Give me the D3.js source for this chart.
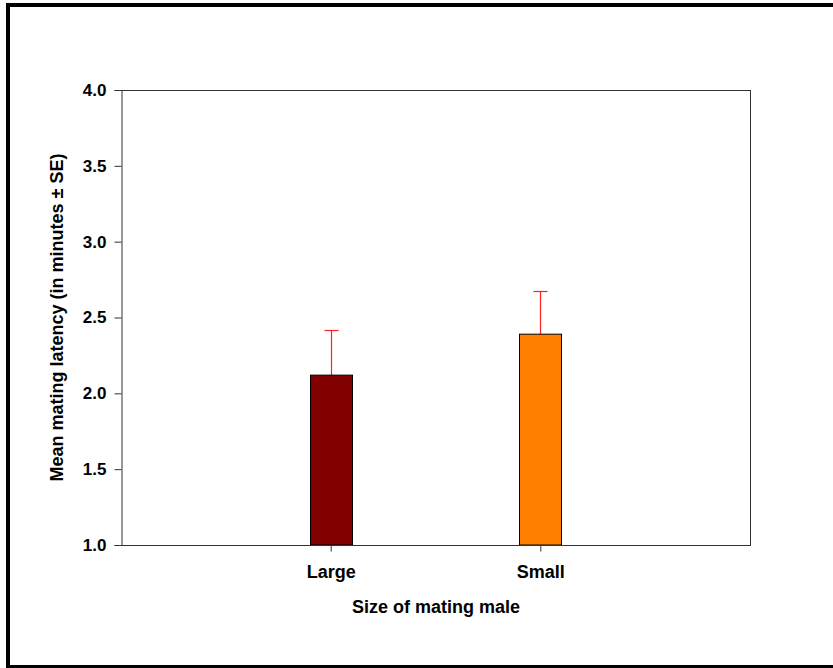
<!DOCTYPE html>
<html lang="en">
<head>
    <meta charset="UTF-8">
    <title>Mean mating latency by male size</title>
    <script src="https://d3js.org/d3.v7.min.js"></script>
    <style>
        body {
            margin: 0;
            padding: 0;
            background: #fff;
            overflow: hidden;
        }

        svg {
            display: block;
        }

        svg text {
            font-family: "Liberation Sans", Arial, sans-serif;
            font-weight: bold;
            fill: #000;
        }
    </style>
</head>
<body>
    <svg id="chart" width="833" height="668"></svg>
    <script>
        // Chart data
        var categories = ['Large', 'Small'];
        var means = [2.12, 2.39];
        var errors = [0.30, 0.285];
        var barColors = ['#800000', '#ff8000'];
        var yTicks = [1.0, 1.5, 2.0, 2.5, 3.0, 3.5, 4.0];

        var svg = d3.select('#chart');

        // Outer frame (right side falls outside the picture)
        var frame = svg.append('g').attr('stroke', '#000').attr('stroke-width', 4);
        frame.append('line').attr('x1', 8).attr('x2', 8).attr('y1', 3).attr('y2', 669);
        frame.append('line').attr('x1', 6).attr('x2', 833).attr('y1', 5).attr('y2', 5);
        frame.append('line').attr('x1', 6).attr('x2', 833).attr('y1', 667).attr('y2', 667);

        var plotLeft = 121, plotRight = 750, plotTop = 90, plotBottom = 545;

        var x = d3.scalePoint()
            .domain(categories)
            .range([plotLeft, plotRight])
            .padding(1);

        var y = d3.scaleLinear()
            .domain([1, 4])
            .range([plotBottom, plotTop]);

        var barWidth = 42;

        // Plot box top and right
        svg.append('line')
            .attr('x1', plotLeft).attr('x2', plotRight + 1)
            .attr('y1', plotTop + 0.5).attr('y2', plotTop + 0.5)
            .attr('stroke', '#333').attr('stroke-width', 1);
        svg.append('line')
            .attr('x1', plotRight + 0.5).attr('x2', plotRight + 0.5)
            .attr('y1', plotTop).attr('y2', plotBottom)
            .attr('stroke', '#333').attr('stroke-width', 1);

        // Error bars (upper only)
        var errs = svg.append('g');
        categories.forEach(function(c, i) {
            var cx = Math.round(x(c)) + 0.5;
            var yTop = Math.round(y(means[i] + errors[i])) + 0.5;
            errs.append('line')
                .attr('x1', cx).attr('x2', cx)
                .attr('y1', y(means[i])).attr('y2', yTop)
                .attr('stroke', '#ff2020').attr('stroke-width', 1.2);
            errs.append('line')
                .attr('x1', cx - 7).attr('x2', cx + 7)
                .attr('y1', yTop).attr('y2', yTop)
                .attr('stroke', '#ff2020').attr('stroke-width', 1.2);
        });

        // Bars
        svg.append('g')
            .selectAll('rect')
            .data(categories)
            .enter().append('rect')
            .attr('x', function(d) { return Math.round(x(d) - barWidth / 2) + 0.5; })
            .attr('y', function(d, i) { return y(means[i]); })
            .attr('width', barWidth)
            .attr('height', function(d, i) { return plotBottom - y(means[i]); })
            .attr('fill', function(d, i) { return barColors[i]; })
            .attr('stroke', '#000')
            .attr('stroke-width', 1);

        // Y axis
        var yAxis = svg.append('g')
            .attr('transform', 'translate(' + (plotLeft + 0.5) + ',0)')
            .call(d3.axisLeft(y)
                .tickValues(yTicks)
                .tickFormat(d3.format('.1f'))
                .tickSize(7)
                .tickPadding(8));
        yAxis.select('.domain').attr('stroke', '#333');
        yAxis.selectAll('.tick line').attr('stroke', '#333');
        yAxis.selectAll('.tick text')
            .style('font-size', '17px')
            .attr('fill', '#000');

        // X axis
        var xAxis = svg.append('g')
            .attr('transform', 'translate(0,' + (plotBottom + 0.5) + ')')
            .call(d3.axisBottom(x)
                .tickSize(6)
                .tickPadding(14));
        xAxis.select('.domain').attr('stroke', '#333')
            .attr('d', 'M' + plotLeft + ',0H' + (plotRight + 1));
        xAxis.selectAll('.tick line').attr('stroke', '#333');
        xAxis.selectAll('.tick text')
            .style('font-size', '18px')
            .attr('fill', '#000');

        // Axis titles
        svg.append('text')
            .attr('x', 436)
            .attr('y', 613)
            .attr('text-anchor', 'middle')
            .style('font-size', '18px')
            .text('Size of mating male');

        svg.append('text')
            .attr('transform', 'translate(63,' + ((plotTop + plotBottom) / 2) + ') rotate(-90)')
            .attr('text-anchor', 'middle')
            .style('font-size', '18px')
            .text('Mean mating latency (in minutes ± SE)');
    </script>
</body>
</html>
